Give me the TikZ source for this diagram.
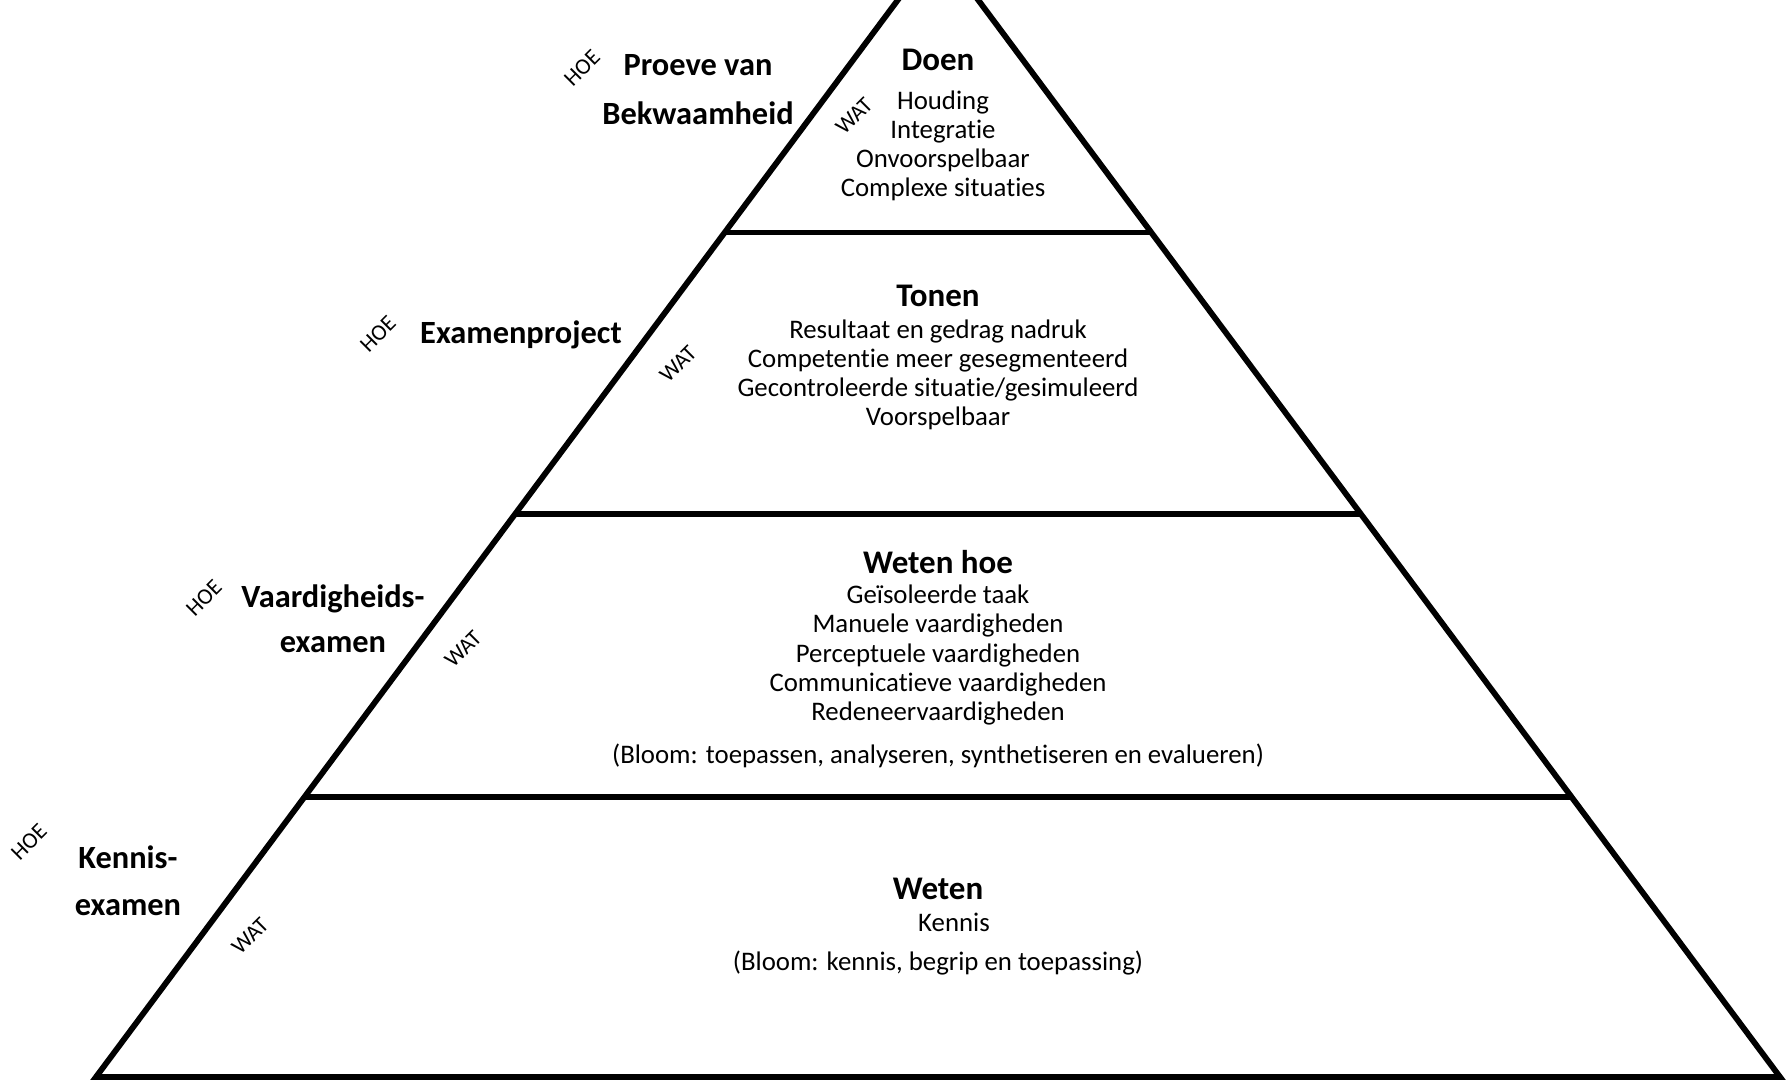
\documentclass[tikz,border=0pt]{standalone}
\usepackage{fontspec}
\setmainfont{Carlito}[Ligatures=NoCommon]
\usetikzlibrary{calc}
\begin{document}
\begin{tikzpicture}[x=0.5pt,y=-0.5pt,
  edge/.style={line width=2.9pt, line join=miter},
  ttl/.style={font=\fontsize{16.5}{19}\selectfont\bfseries, inner sep=0pt},
  body/.style={font=\fontsize{13.4}{14.6}\selectfont, align=center, inner sep=0pt},
  side/.style={font=\fontsize{16.2}{24.5}\selectfont\bfseries, align=center, inner sep=0pt},
  tag/.style={font=\fontsize{11.3}{13}\selectfont, rotate=45, inner sep=0pt}]
\clip (0,0) rectangle (1790,1080);
\fill[white] (0,0) rectangle (1790,1080);
\coordinate (A) at (938,-54);
\coordinate (BL) at (96,1077);
\coordinate (BR) at (1780,1077);
\draw[edge] (A) -- (BL) -- (BR) -- cycle;
\coordinate (La) at ($(A)!0.2533!(BL)$);
\coordinate (Ra) at ($(A)!0.2533!(BR)$);
\coordinate (Lb) at ($(A)!0.5022!(BL)$);
\coordinate (Rb) at ($(A)!0.5022!(BR)$);
\coordinate (Lc) at ($(A)!0.7524!(BL)$);
\coordinate (Rc) at ($(A)!0.7524!(BR)$);
\draw[edge] (La) -- (Ra);
\draw[edge] (Lb) -- (Rb);
\draw[edge] (Lc) -- (Rc);

% layer 1
\node[ttl] (t1) at (938,60) {Doen};
\node[body] (b1) at (943,146) {Houding\\Integratie\\Onvoorspelbaar\\Complexe situaties};
\node[side] (s1) at (698,90) {Proeve van\\Bekwaamheid};
\node[tag] (h1) at (582,68) {HOE};
\node[tag] (w1) at (854,116) {WAT};

% layer 2
\node[ttl] (t2) at (938,296) {Tonen};
\node[body] (b2) at (938,375) {Resultaat en gedrag nadruk\\Competentie meer gesegmenteerd\\Gecontroleerde situatie/gesimuleerd\\Voorspelbaar};
\node[side] (s2) at (521,335) {Examenproject};
\node[tag] (h2) at (378,334) {HOE};
\node[tag] (w2) at (678,364) {WAT};

% layer 3
\node[ttl] (t3) at (938,562) {Weten hoe};
\node[body] (b3) at (938,655) {Geïsoleerde taak\\Manuele vaardigheden\\Perceptuele vaardigheden\\Communicatieve vaardigheden\\Redeneervaardigheden};
\node[body] (c3) at (938,756) {(Bloom: toepassen, analyseren, synthetiseren en evalueren)};
\node[side, font=\fontsize{16.2}{22.5}\selectfont\bfseries] (s3) at (333,619) {Vaardigheids-\\examen};
\node[tag] (h3) at (204,598) {HOE};
\node[tag] (w3) at (463,649) {WAT};

% layer 4
\node[ttl] (t4) at (938,889) {Weten};
\node[body] (b4) at (954,922) {Kennis};
\node[body] (c4) at (938,963) {(Bloom: kennis, begrip en toepassing)};
\node[side, font=\fontsize{16.2}{23.5}\selectfont\bfseries] (s4) at (128,881) {Kennis-\\examen};
\node[tag] (h4) at (29,842) {HOE};
\node[tag] (w4) at (250,936) {WAT};
\end{tikzpicture}
\end{document}
